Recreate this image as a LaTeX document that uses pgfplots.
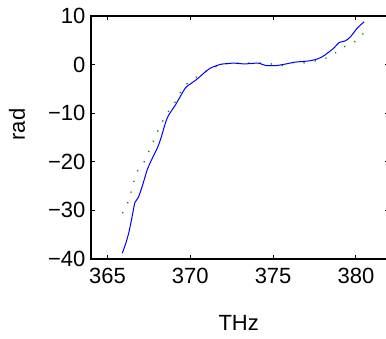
\documentclass[border=0pt]{standalone}
\usepackage{pgfplots}
\pgfplotsset{compat=1.18}
\usepackage{fontspec}
\setmainfont{Liberation Sans}
\begin{document}
\begin{tikzpicture}[x=1pt,y=1pt]
\useasboundingbox (0,0) rectangle (386,339);
\clip (0,0) rectangle (386,339);
\begin{axis}[
  at={(91pt,80pt)}, anchor=south west,
  scale only axis, width=298pt, height=243pt,
  xmin=364, xmax=382, ymin=-40, ymax=10,
  xtick={365,370,375,380},
  ytick={-40,-30,-20,-10,0,10},
  yticklabels={−40,−30,−20,−10,0,10},
  xticklabels={365,370,375,380},
  tick align=inside,
  major tick length=4pt,
  axis line style={line width=1.6pt},
  every tick/.style={black, line width=1pt},
  tick label style={font=\fontsize{22}{22}\selectfont},
  xticklabel style={yshift=-6pt},
  yticklabel style={xshift=-2pt},
  label style={font=\fontsize{22}{22}\selectfont},
  xlabel={THz},
  xlabel style={at={(axis description cs:0.4956,-0.263)}, anchor=center},
  ylabel={rad},
  ylabel style={at={(axis description cs:-0.248,0.553)}, anchor=center},
]
\addplot[color={rgb,255:red,0;green,128;blue,0}, line width=1.3pt, dash pattern=on 1.2pt off 10pt, smooth, tension=0.3] coordinates {
(365.9,-30.6) (366.2,-28.6) (366.4,-26.5) (366.57,-24.3) (366.75,-22.2)
(367.17,-20.3) (367.43,-18.3) (367.7,-16.3) (367.96,-14.2) (368.26,-12.1)
(368.58,-10.1) (368.97,-8.3) (369.3,-6.4) (369.63,-4.4) (370.15,-3.1)
(370.7,-1.8) (371.3,-0.75) (372.0,0.1) (372.6,0.3) (373.2,0.3)
(373.9,0.3) (374.7,0.3) (375.4,-0.3) (376.05,0.4) (376.7,0.3)
(377.3,0.6) (377.98,1.1) (378.6,1.9) (379.1,3.4) (379.7,4.2)
(380.2,5.4) (380.6,7.1)
};
\addplot[color=blue, line width=1pt, smooth, tension=0.4] coordinates {
(365.89,-38.8) (366.1,-36.8) (366.29,-34.5) (366.5,-31.0) (366.65,-28.4)
(366.85,-27.4) (367.10,-25.0) (367.40,-21.6) (367.7,-19.3) (368.0,-17.2)
(368.2,-15.4) (368.6,-11.0) (369.1,-8.3) (369.7,-4.8) (370.0,-4.0)
(370.4,-3.0) (370.8,-1.8) (371.2,-0.75) (371.6,-0.2) (371.9,0.1)
(372.6,0.3) (373.2,0.15) (373.6,0.2) (374.1,0.3) (374.6,-0.2)
(375.2,-0.2) (375.8,0.15) (376.3,0.5) (376.65,0.6) (377.26,0.8)
(377.7,1.2) (378.06,1.8) (378.67,3.4) (378.97,4.5) (379.37,4.9)
(379.67,5.7) (380.08,7.5) (380.5,8.8)
};
\end{axis}
\end{tikzpicture}
\end{document}
